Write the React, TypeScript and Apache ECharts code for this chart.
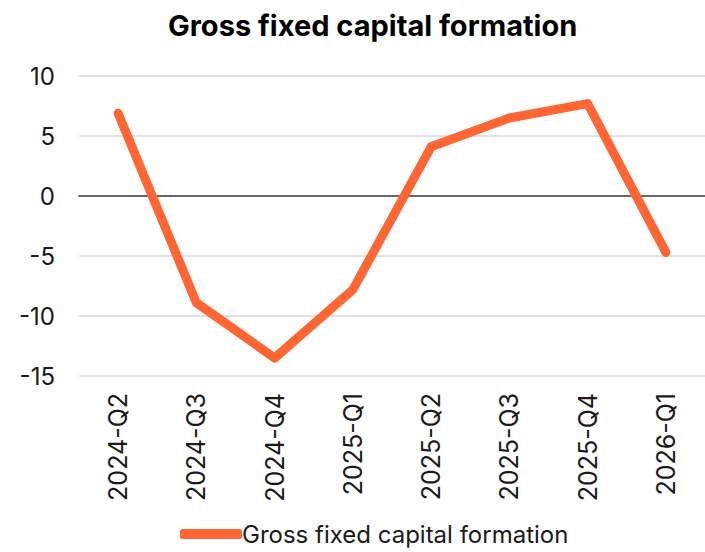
import React, { useEffect, useRef } from "react";
import * as echarts from "echarts";

const categories = ["2024-Q2", "2024-Q3", "2024-Q4", "2025-Q1", "2025-Q2", "2025-Q3", "2025-Q4", "2026-Q1"];
const values = [6.9, -8.9, -13.5, -7.8, 4.1, 6.5, 7.7, -4.7];
const seriesName = "Gross fixed capital formation";
const titleText = "Gross fixed capital formation";

export default function App() {
  const ref = useRef<HTMLDivElement>(null);
  useEffect(() => {
    const chart = echarts.init(ref.current!, null, { renderer: "svg" });
    const font = "Inter, 'Noto Sans', sans-serif";
    chart.setOption({
      animation: false,
      backgroundColor: "#ffffff",
      textStyle: { fontFamily: font },
      title: {
        text: titleText,
        left: 163,
        top: 6,
        textStyle: { fontFamily: font, fontSize: 29, fontWeight: "bold", color: "#000000" },
      },
      legend: {
        data: [seriesName],
        left: 180,
        top: 522,
        padding: 0,
        icon: "roundRect",
        itemWidth: 62,
        itemHeight: 10,
        textStyle: { fontFamily: font, fontSize: 24, color: "#1a1a1a", padding: [0, 0, 0, -5] },
      },
      grid: { left: 79, right: -12, top: 76, bottom: 176, containLabel: false },
      xAxis: {
        type: "category",
        data: categories,
        boundaryGap: true,
        axisLine: { onZero: true, lineStyle: { color: "#404040", width: 1.5 } },
        axisTick: { show: false },
        axisLabel: { rotate: 90, margin: 17, fontSize: 25, color: "#1a1a1a", fontFamily: font },
      },
      yAxis: {
        type: "value",
        min: -15,
        max: 10,
        interval: 5,
        axisLine: { show: false },
        axisTick: { show: false },
        axisLabel: { margin: 24, fontSize: 24, color: "#1a1a1a", fontFamily: font },
        splitLine: { lineStyle: { color: "#d9d9d9", width: 1.5 } },
      },
      series: [
        {
          name: seriesName,
          type: "line",
          data: values,
          symbol: "none",
          color: "#FF6633",
          lineStyle: { color: "#FF6633", width: 9, cap: "round", join: "round" },
        },
      ],
    });
    return () => chart.dispose();
  }, []);
  return (
    <div
      ref={ref}
      style={{ position: "absolute", left: 0, top: 0, width: 705, height: 552, overflow: "hidden" }}
    />
  );
}
